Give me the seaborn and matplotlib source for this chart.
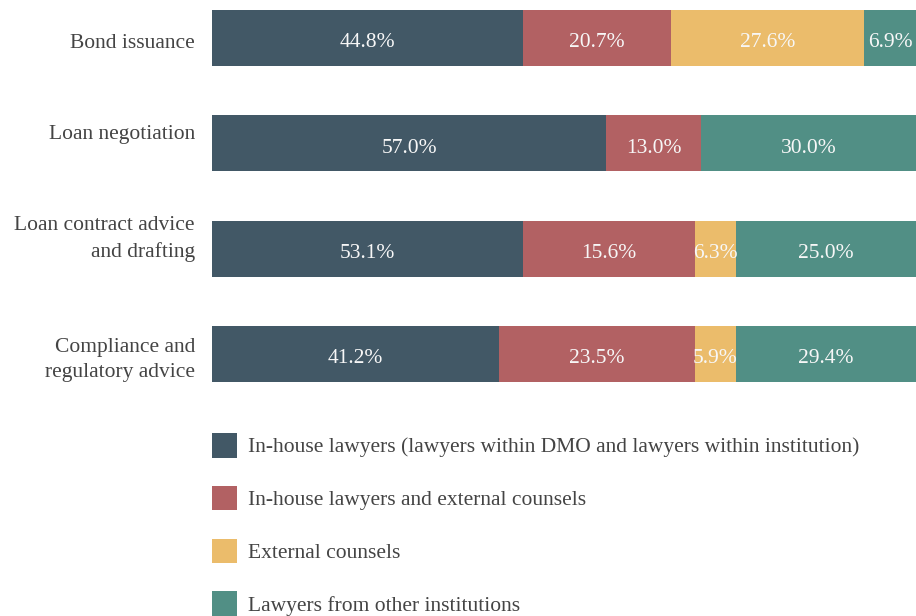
import matplotlib.pyplot as plt
from matplotlib.patches import Patch
import seaborn as sns
import numpy as np

categories = ["Bond issuance", "Loan negotiation",
              "Loan contract advice\nand drafting",
              "Compliance and\nregulatory advice"]
series_names = [
    "In-house lawyers (lawyers within DMO and lawyers within institution)",
    "In-house lawyers and external counsels",
    "External counsels",
    "Lawyers from other institutions",
]
# segment lengths as drawn in the reference (share of the bar, %)
in_house = [44.2, 56.0, 44.2, 40.8]
in_house_external = [21.0, 13.5, 24.4, 27.8]
external = [27.4, 0.0, 5.8, 5.8]
other_inst = [7.4, 30.5, 25.6, 25.6]
# printed labels
in_house_lbl = ["44.8%", "57.0%", "53.1%", "41.2%"]
in_house_external_lbl = ["20.7%", "13.0%", "15.6%", "23.5%"]
external_lbl = ["27.6%", "", "6.3%", "5.9%"]
other_inst_lbl = ["6.9%", "30.0%", "25.0%", "29.4%"]
colors = ["#425866", "#b26163", "#ebbc6b", "#518f85"]

sns.set_theme(style="white")
plt.rcParams["font.family"] = ["Liberation Serif", "DejaVu Serif"]

values = np.array([in_house, in_house_external, external, other_inst])
labels = [in_house_lbl, in_house_external_lbl, external_lbl, other_inst_lbl]
cum = values.cumsum(axis=0)

fig = plt.figure(figsize=(9.16, 6.16), dpi=100)
ax = fig.add_axes([212 / 916, (616 - 382) / 616, 704 / 916, 372 / 616])

# stacked bars: draw cumulative totals from the widest down
for i in range(len(series_names) - 1, -1, -1):
    sns.barplot(x=cum[i], y=categories, color=colors[i], width=0.53,
                saturation=1, linewidth=0, orient="h", ax=ax)

for i in range(len(series_names)):
    for j in range(len(categories)):
        if not labels[i][j]:
            continue
        center = cum[i, j] - values[i, j] / 2
        ax.text(center, j + 0.045, labels[i][j], ha="center", va="center",
                color="#f7f7f7", fontsize=15.5)

ax.set_xlim(0, 100)
ax.set_ylim(3.265, -0.265)
ax.set_xlabel("")
ax.set_ylabel("")
ax.set_xticks([])
ax.set_yticks([])
sns.despine(ax=ax, left=True, bottom=True)

# category labels, nudged to sit where the reference has them
label_nudge = [0.028, -0.104, -0.145, 0.0]
for j, name in enumerate(categories):
    ax.text(-17 / 704, j + label_nudge[j], name, transform=ax.get_yaxis_transform(),
            ha="right", va="center_baseline", multialignment="right",
            fontsize=15.5, color="#444444", linespacing=1.45)

handles = [Patch(facecolor=c, edgecolor="none") for c in colors]
fig.legend(handles, series_names, loc="upper left",
           bbox_to_anchor=(212 / 916, 1 - 433 / 616), frameon=False,
           fontsize=15.5, labelcolor="#444444", handlelength=1.17,
           handleheight=1.38, handletextpad=0.5, labelspacing=1.31,
           borderpad=0, borderaxespad=0)

fig.savefig("out.png", dpi=100)
